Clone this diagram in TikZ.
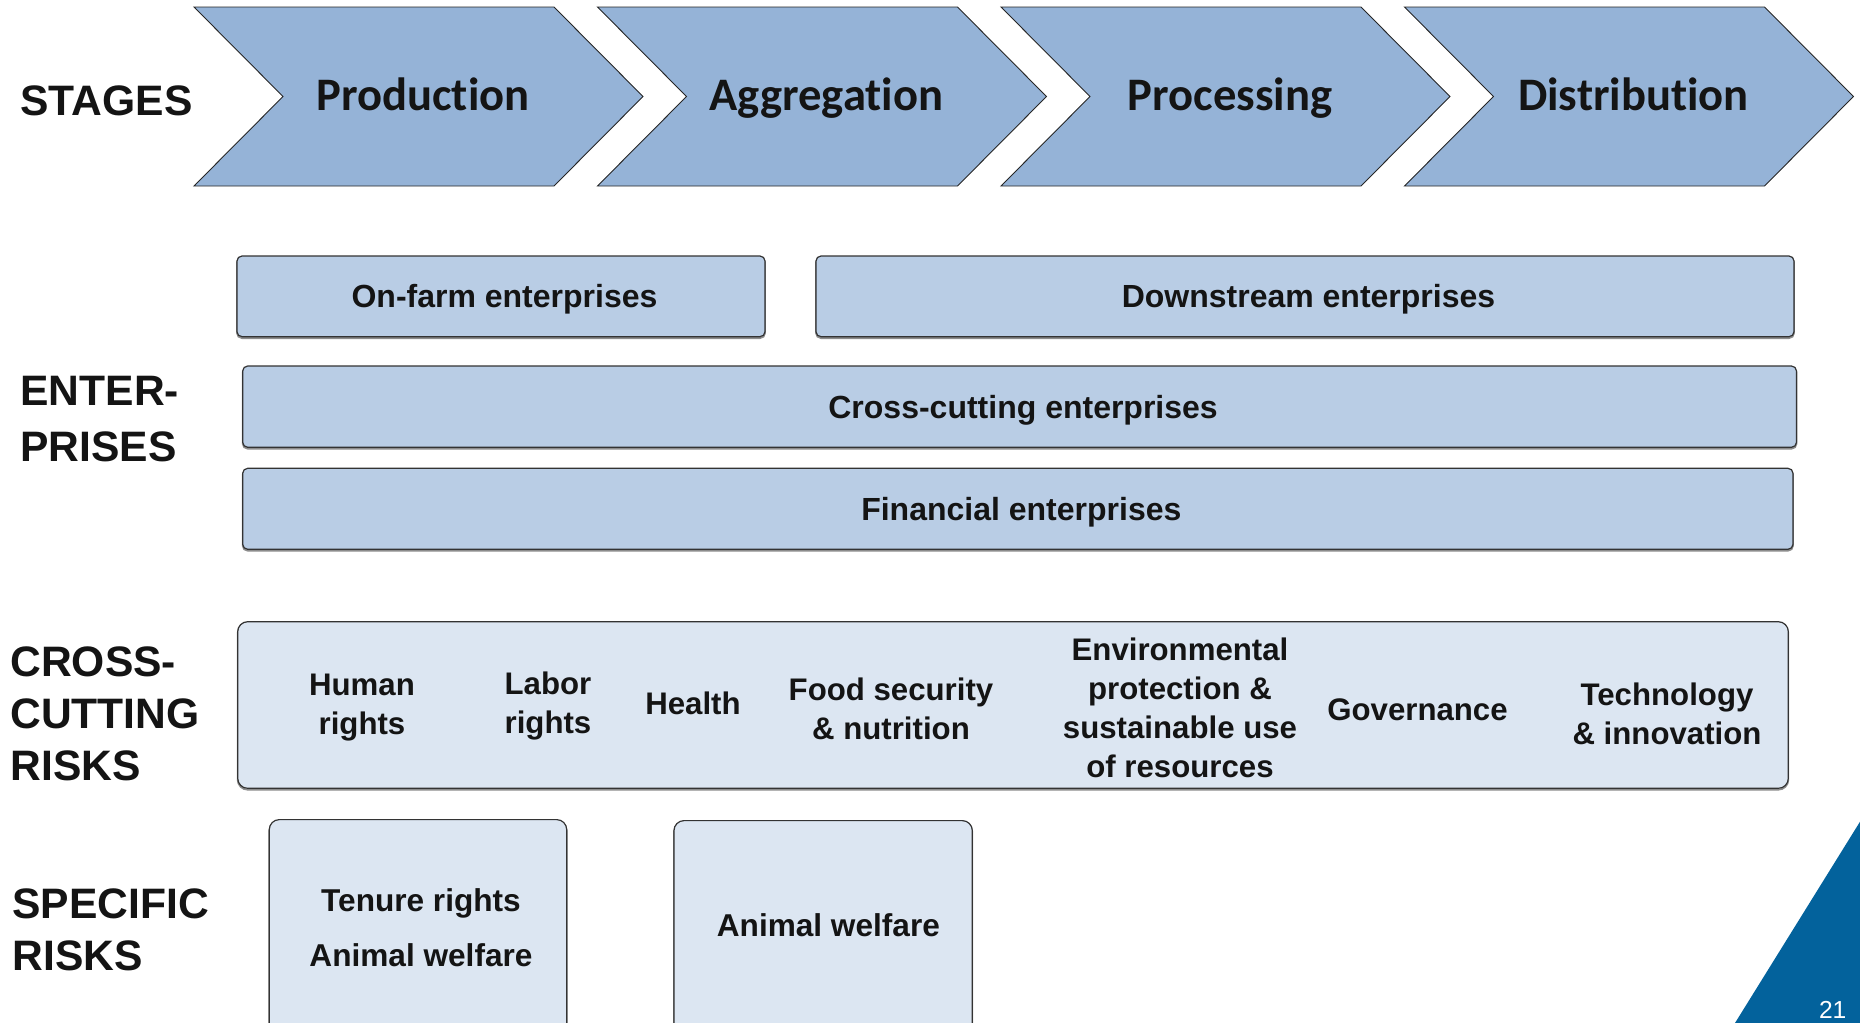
\documentclass[tikz,border=0pt]{standalone}
\usepackage{fontspec}
\setmainfont{Liberation Sans}
\newfontfamily\chevfont[Ligatures=NoCommon]{Carlito}

\definecolor{chevfill}{HTML}{95B3D7}
\definecolor{entfill}{HTML}{B9CDE5}
\definecolor{riskfill}{HTML}{DCE6F2}
\definecolor{cornerblue}{HTML}{03629C}
\definecolor{inkdark}{HTML}{141414}
\definecolor{edgegray}{HTML}{333333}

% stacked lines whose baseline is the first line's baseline
\newcommand\cstack[1]{\vtop{\halign{\hfil##\hfil\cr#1\crcr}}}
\newcommand\lstack[1]{\vtop{\halign{##\hfil\cr#1\crcr}}}

\begin{document}
\begin{tikzpicture}[x=0.5pt,y=-0.5pt,
  chevron/.style={draw=black!85, line width=0.45pt, fill=chevfill, line join=miter},
  chevtxt/.style={font=\chevfont\bfseries\fontsize{23.3pt}{28pt}\selectfont,
    anchor=base, inner sep=0pt, text=inkdark},
  lbl/.style={font=\bfseries\fontsize{21.3pt}{25.85pt}\selectfont,
    anchor=base west, inner sep=0pt, text=inkdark},
  boxshadow/.style={preaction={draw=black!45, line width=0.9pt,
    transform canvas={yshift=-0.7pt}}},
  entbox/.style={boxshadow, draw=edgegray, line width=0.6pt, fill=entfill,
    rounded corners=2.5pt, inner sep=0pt, text=inkdark,
    font=\bfseries\fontsize{16pt}{19pt}\selectfont,
    text height=11.5pt, text depth=0pt,
    execute at begin node={\hspace*{3.5pt}}},
  riskbox/.style={boxshadow, draw=edgegray, line width=0.6pt, fill=riskfill,
    rounded corners=5pt, inner sep=0pt},
  item/.style={font=\bfseries\fontsize{15.6pt}{19.5pt}\selectfont,
    anchor=base, inner sep=0pt, text=inkdark},
  specitem/.style={item, font=\bfseries\fontsize{15.8pt}{27.5pt}\selectfont}
]
\useasboundingbox (0,0) rectangle (1860,1023);
\begin{scope}
\clip (0,0) rectangle (1860,1023);

% value-chain stages
\foreach \i/\nm/\lab in {0/prod/Production,1/aggr/Aggregation,2/proc/Processing,3/dist/Distribution}{
  \pgfmathsetmacro\L{194+403.5*\i}
  \draw[chevron] (\L,7) -- (\L+360,7) -- (\L+449,96.5) -- (\L+360,186)
    -- (\L,186) -- (\L+89,96.5) -- cycle;
  \node[chevtxt] (\nm) at (\L+229,110) {\lab};
}

% row labels
\node[lbl] (stages) at (20,115) {STAGES};
\node[lbl, font=\bfseries\fontsize{21.3pt}{28.35pt}\selectfont] (enterprises) at (20,405) {\lstack{ENTER-\cr PRISES}};
\node[lbl] (crosscut) at (10,676.7) {\lstack{CROSS-\cr CUTTING\cr RISKS}};
\node[lbl] (specific) at (12,918.3) {\lstack{SPECIFIC\cr RISKS}};

% enterprises
\node[entbox, minimum width=264pt, minimum height=40.35pt] (onfarm) at (501,296.35) {On-farm enterprises};
\node[entbox, minimum width=489pt, minimum height=40.35pt] (downstream) at (1305,296.35) {Downstream enterprises};
\node[entbox, minimum width=776.9pt, minimum height=40.65pt] (crossent) at (1019.6,406.65) {Cross-cutting enterprises};
\node[entbox, minimum width=775.15pt, minimum height=40.5pt] (financial) at (1017.85,508.8) {Financial enterprises};

% cross-cutting risks
\node[riskbox, minimum width=775.3pt, minimum height=83.3pt] (riskpanel) at (1013,705) {};
\node[item] (human) at (362,695) {\cstack{Human\cr rights}};
\node[item] (labor) at (548,694) {\cstack{Labor\cr rights}};
\node[item] (health) at (693,714) {Health};
\node[item] (food) at (891,700.7) {\cstack{Food security\cr \& nutrition}};
\node[item] (env) at (1180,660) {\cstack{Environmental\cr protection \&\cr sustainable use\cr of resources}};
\node[item] (gov) at (1417.5,720) {Governance};
\node[item] (tech) at (1667,705) {\cstack{Technology\cr \& innovation}};

% specific risks
\node[riskbox, minimum width=148.7pt, minimum height=112pt, anchor=north] (tenurebox) at (418,819) {};
\node[riskbox, minimum width=149.15pt, minimum height=112pt, anchor=north] (animalbox) at (823.15,820) {};
\node[specitem] (tenure) at (421,911.7) {\cstack{Tenure rights\cr Animal welfare}};
\node[specitem] (animal) at (828.4,936.7) {Animal welfare};

% page corner
\fill[cornerblue] (1860,821.7) -- (1860,1023) -- (1735,1023) -- cycle;
\node[font=\fontsize{12.3pt}{14pt}\selectfont, text=white, anchor=base, inner sep=0pt] (pagenum) at (1832.7,1018.3) {21};
\end{scope}
\end{tikzpicture}
\end{document}
